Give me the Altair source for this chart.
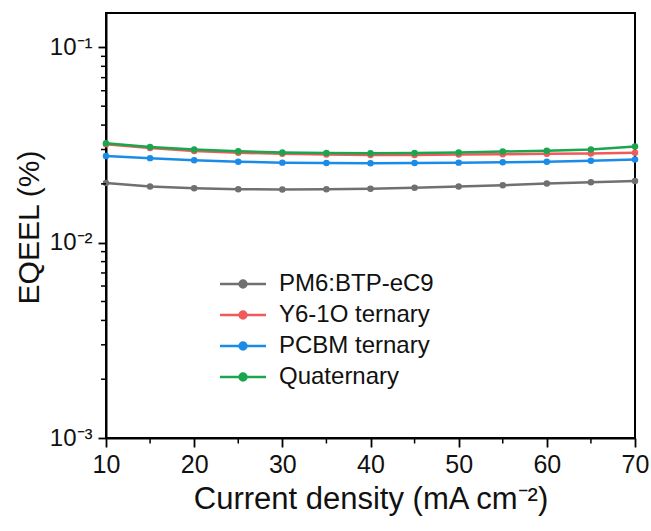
import altair as alt
import pandas as pd

current = [10, 15, 20, 25, 30, 35, 40, 45, 50, 55, 60, 65, 70]
series_names = ["PM6:BTP-eC9", "Y6-1O ternary", "PCBM ternary", "Quaternary"]
pm6 = [0.0202, 0.0194, 0.0190, 0.0188, 0.0187, 0.0188, 0.0189, 0.0191, 0.0194, 0.0197, 0.0201, 0.0204, 0.0207]
y61o = [0.0319, 0.0305, 0.0295, 0.0289, 0.0285, 0.0283, 0.0281, 0.0281, 0.0283, 0.0284, 0.0285, 0.0286, 0.0289]
pcbm = [0.0278, 0.0271, 0.0264, 0.0260, 0.0257, 0.0256, 0.0255, 0.0256, 0.0257, 0.0258, 0.0260, 0.0263, 0.0267]
quat = [0.0323, 0.0309, 0.0300, 0.0294, 0.0290, 0.0288, 0.0287, 0.0288, 0.0290, 0.0293, 0.0296, 0.0300, 0.0311]
colors = ["#707070", "#f05a5a", "#1a8ce8", "#1aa64e"]

x_major = [10, 20, 30, 40, 50, 60, 70]
x_minor = [15, 25, 35, 45, 55, 65]
y_major = [0.001, 0.01, 0.1]
y_major_labels = ["10⁻³", "10⁻²", "10⁻¹"]
y_minor = [m * 10 ** e for e in (-3, -2) for m in range(2, 10)]

x_title = "Current density (mA cm⁻²)"
y_title = "EQEEL (%)"

rows = []
for name, vals in zip(series_names, [pm6, y61o, pcbm, quat]):
    for xv, yv in zip(current, vals):
        rows.append({"J": xv, "EQE": yv, "Sample": name})
df = pd.DataFrame(rows)

FONT = "Liberation Sans"
xscale = alt.Scale(domain=[10, 70], nice=False, zero=False)
yscale = alt.Scale(type="log", domain=[0.001, 0.15], nice=False)

legend_path = "M-2,0L2,0M0,-0.3A0.3,0.3 0 1,1 0,0.3A0.3,0.3 0 1,1 0,-0.3Z"

ylab_expr = ("abs(datum.value-0.1)<1e-9 ? '" + y_major_labels[2] + "' : "
             "(abs(datum.value-0.01)<1e-10 ? '" + y_major_labels[1] + "' : '" + y_major_labels[0] + "')")

lines = alt.Chart(df).mark_line(
    strokeWidth=2.5,
    point=alt.OverlayMarkDef(filled=True, size=42, opacity=1),
).encode(
    x=alt.X("J:Q", scale=xscale, title=x_title,
            axis=alt.Axis(values=x_major, tickSize=9,
                          labelFontSize=25, titleFontSize=31,
                          labelPadding=5, titlePadding=7,
                          labelFont=FONT, titleFont=FONT, titleFontWeight="normal",
                          labelColor="#111", titleColor="#111",
                          grid=False, domainColor="black", domainWidth=2,
                          tickColor="black", tickWidth=1.8, labelFlush=False)),
    y=alt.Y("EQE:Q", scale=yscale, title=y_title,
            axis=alt.Axis(values=y_major, labelExpr=ylab_expr, tickSize=8,
                          labelFontSize=24, labelPadding=6, labelOverlap=False,
                          titleFontSize=30,
                          labelFont=FONT, titleFont=FONT, titleFontWeight="normal",
                          labelColor="#111", titleColor="#111",
                          titleX=-77, titleY=214, titleAngle=-90, titleBaseline="middle",
                          grid=False, domainColor="black", domainWidth=2,
                          tickColor="black", tickWidth=1.8)),
    color=alt.Color("Sample:N",
                    scale=alt.Scale(domain=series_names, range=colors),
                    legend=alt.Legend(title=None, orient="none", legendX=124, legendY=258,
                                      symbolType=legend_path, symbolSize=529,
                                      symbolStrokeWidth=2.5, labelFontSize=24,
                                      labelFont=FONT, labelColor="#111", labelOffset=23,
                                      rowPadding=6)),
    order=alt.Order("J:Q"),
)

yminor = alt.Chart(pd.DataFrame({"ym": y_minor})).mark_rule(
    color="black", strokeWidth=1.5, clip=False
).encode(
    y=alt.Y("ym:Q", scale=yscale, title=y_title),
    x=alt.value(-5), x2=alt.value(0),
)

xminor = alt.Chart(pd.DataFrame({"xm": x_minor})).mark_rule(
    color="black", strokeWidth=1.5, clip=False
).encode(
    x=alt.X("xm:Q", scale=xscale, title=x_title),
    y=alt.value(425), y2=alt.value(430.5),
)

chart = alt.layer(lines, yminor, xminor).properties(
    width=529, height=425,
    background="white",
    autosize=alt.AutoSizeParams(type="none"),
    padding={"left": 106, "top": 13, "right": 16, "bottom": 93},
).configure_view(stroke="black", strokeWidth=2)

chart.save("out.html", embed_options={"renderer": "svg", "actions": False})
